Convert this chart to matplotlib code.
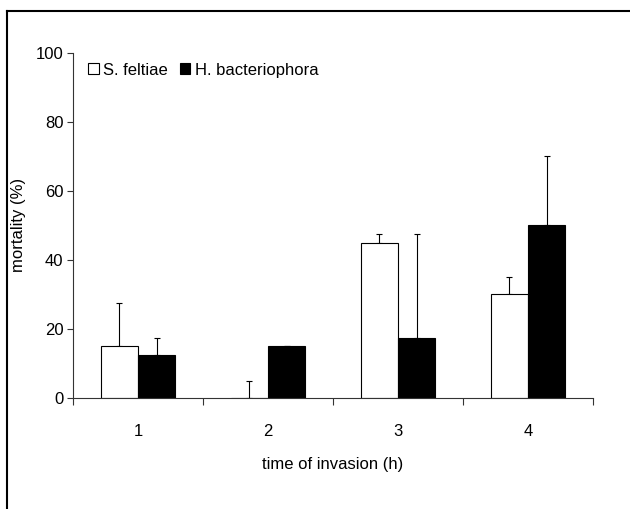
import numpy as np
import matplotlib.pyplot as plt
from matplotlib.patches import Patch
from matplotlib.lines import Line2D

plt.rcParams['font.family'] = ['Liberation Sans', 'DejaVu Sans']

# data
hours = [1, 2, 3, 4]
feltiae = [15, 0, 45, 30]
feltiae_err = [12.5, 5, 2.5, 5]
bacterio = [12.5, 15, 17.5, 50]
bacterio_err = [5, 0, 30, 20]

fig = plt.figure(figsize=(6.3, 5.09), dpi=100)
ax = fig.add_axes([0.1159, 0.218, 0.8254, 0.6785])

x = np.array(hours)
w = 0.286

ax.bar(x - w / 2, feltiae, w, color='white', edgecolor='black', linewidth=0.8, zorder=2)
ax.bar(x + w / 2, bacterio, w, color='black', edgecolor='black', linewidth=0.8, zorder=2)

# upper error bars only
ax.errorbar(x - w / 2, feltiae, yerr=[np.zeros(4), feltiae_err], fmt='none',
            ecolor='black', elinewidth=0.8, capsize=2.3, capthick=0.8, zorder=1)
ax.errorbar(x + w / 2, bacterio, yerr=[np.zeros(4), bacterio_err], fmt='none',
            ecolor='black', elinewidth=0.8, capsize=2.3, capthick=0.8, zorder=3)

ax.set_xlim(0.5, 4.5)
ax.set_ylim(0, 100)
ax.set_yticks([0, 20, 40, 60, 80, 100])
ax.set_xticks(hours)
ax.set_xticks([0.5, 1.5, 2.5, 3.5, 4.5], minor=True)
ax.tick_params(axis='x', which='major', length=0, labelsize=12, pad=19)
ax.tick_params(axis='x', which='minor', length=5, width=0.8, color='#333333')
ax.tick_params(axis='y', length=4, width=0.8, color='#333333', labelsize=12, pad=3)

for s in ['top', 'right']:
    ax.spines[s].set_visible(False)
for s in ['left', 'bottom']:
    ax.spines[s].set_linewidth(0.8)
    ax.spines[s].set_color('#333333')

ax.set_xlabel('time of invasion (h)', fontsize=12, labelpad=13)
ax.set_ylabel('mortality (%)', fontsize=12, labelpad=7)

handles = [Patch(facecolor='white', edgecolor='black', linewidth=0.8),
           Patch(facecolor='black', edgecolor='black', linewidth=0.8)]
ax.legend(handles, ['S. feltiae', 'H. bacteriophora'], ncol=2, frameon=False,
          loc='upper left', bbox_to_anchor=(0.01, 1.0), fontsize=12,
          handlelength=0.65, handleheight=0.65, handletextpad=0.25,
          columnspacing=0.7, borderaxespad=0.2)

# partial frame around the figure (left and top edges)
fig.add_artist(Line2D([6.5 / 630, 6.5 / 630], [0, 1 - 10.5 / 509],
                      transform=fig.transFigure, color='black', linewidth=1.5))
fig.add_artist(Line2D([6.5 / 630, 1], [1 - 10.5 / 509, 1 - 10.5 / 509],
                      transform=fig.transFigure, color='black', linewidth=1.5))

fig.savefig('out.png', dpi=100)
